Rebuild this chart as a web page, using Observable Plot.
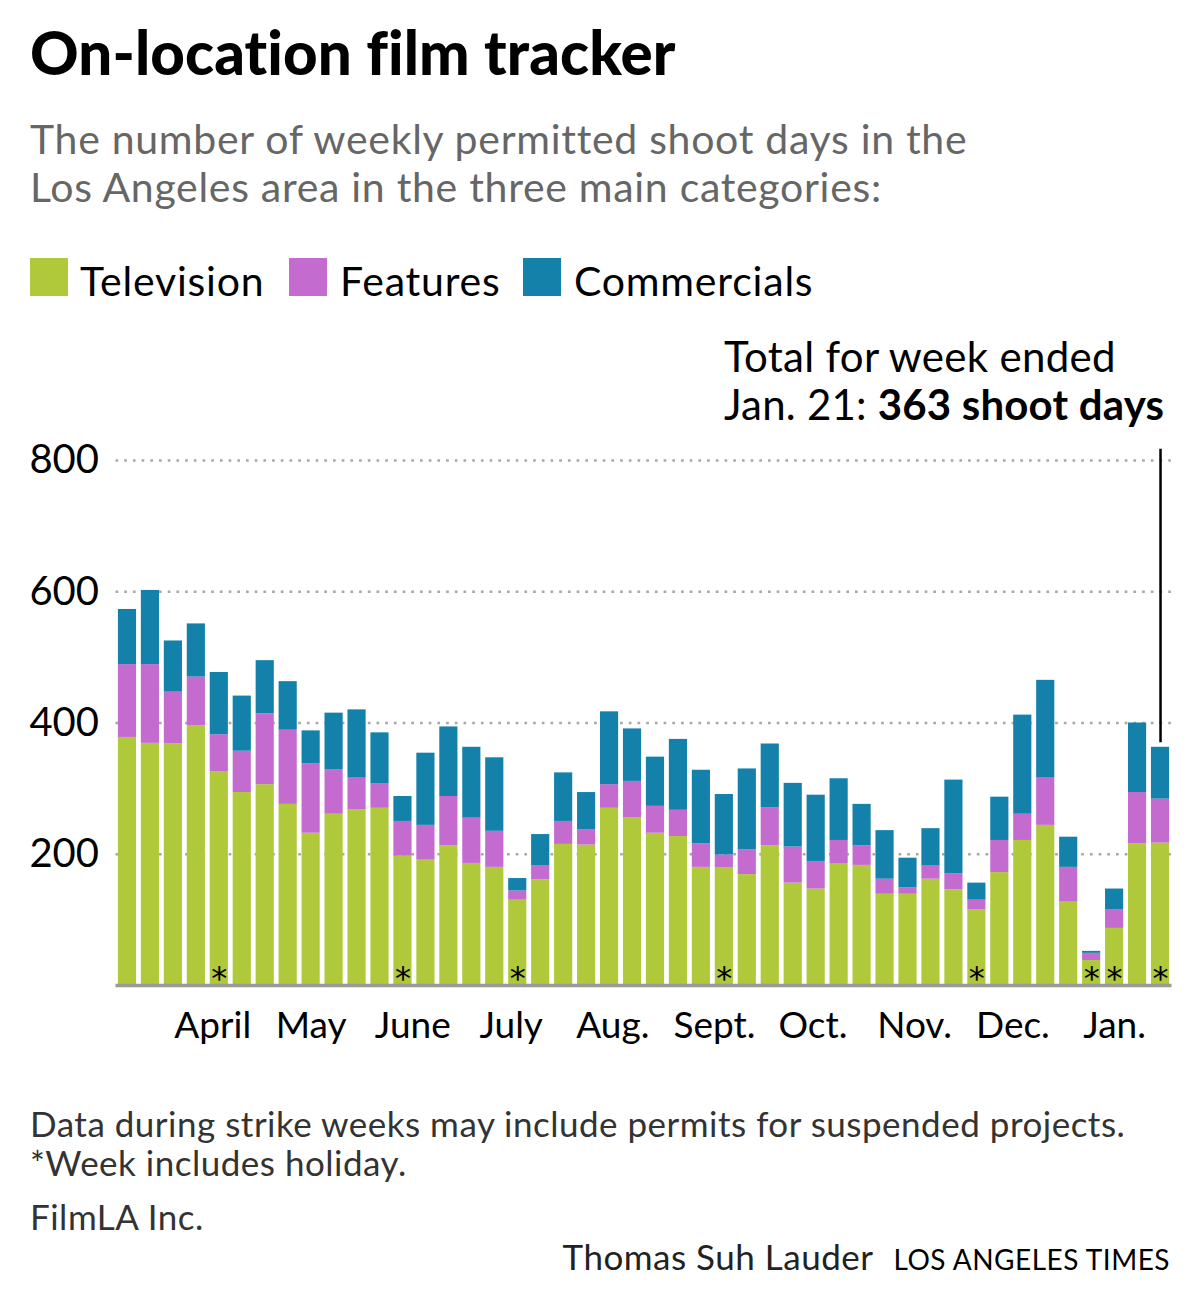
<!DOCTYPE html>
<html>
<head>
<meta charset="utf-8">
<script src="https://cdn.jsdelivr.net/npm/d3@7"></script>
<script src="https://cdn.jsdelivr.net/npm/@observablehq/plot@0.6"></script>
<style>
  body { margin: 0; background: #fff; }
  #root { position: relative; width: 1200px; height: 1314px; font-family: Lato, "Noto Sans", sans-serif; color: #000; overflow: hidden; }
  .t { position: absolute; white-space: nowrap; line-height: 1; }
  #chart { position: absolute; left: 0; top: 330px; }
  .sw { position: absolute; width: 38px; height: 38px; }
</style>
</head>
<body>
<div id="root">
  <div class="t" style="left:30px; top:22px; font-size:60px; font-weight:900; letter-spacing:0.1px;">On-location film tracker</div>
  <div class="t" style="left:30px; top:118px; font-size:41px; color:#666; letter-spacing:0.7px;">The number of weekly permitted shoot days in the</div>
  <div class="t" style="left:30px; top:166px; font-size:41px; color:#666; letter-spacing:0.7px;">Los Angeles area in the three main categories:</div>
  <div id="legend"></div>
  <div class="t" style="left:724px; top:335px; font-size:42px; letter-spacing:0.3px;">Total for week ended</div>
  <div class="t" style="left:724px; top:383px; font-size:42px; letter-spacing:0.2px;">Jan. 21: <b>363 shoot days</b></div>
  <div id="chart"></div>
  <div class="t" style="left:30px; top:1106px; font-size:35px; color:#333; letter-spacing:0.5px;">Data during strike weeks may include permits for suspended projects.</div>
  <div class="t" style="left:30px; top:1145px; font-size:35px; color:#333; letter-spacing:0.5px;">*Week includes holiday.</div>
  <div class="t" style="left:30px; top:1199px; font-size:35px; color:#333; letter-spacing:0.5px;">FilmLA Inc.</div>
  <div class="t" style="right:30px; top:1239px; font-size:35px; color:#222; letter-spacing:0.5px;">Thomas Suh Lauder<span style="display:inline-block; width:20px;"></span><span style="font-size:28px; color:#000;">LOS ANGELES TIMES</span></div>
</div>
<script>
const weekEnded = ["2023-03-12","2023-03-19","2023-03-26","2023-04-02","2023-04-09","2023-04-16","2023-04-23","2023-04-30",
  "2023-05-07","2023-05-14","2023-05-21","2023-05-28","2023-06-04","2023-06-11","2023-06-18","2023-06-25",
  "2023-07-02","2023-07-09","2023-07-16","2023-07-23","2023-07-30","2023-08-06","2023-08-13","2023-08-20","2023-08-27",
  "2023-09-03","2023-09-10","2023-09-17","2023-09-24","2023-10-01","2023-10-08","2023-10-15","2023-10-22","2023-10-29",
  "2023-11-05","2023-11-12","2023-11-19","2023-11-26","2023-12-03","2023-12-10","2023-12-17","2023-12-24","2023-12-31",
  "2024-01-07","2024-01-14","2024-01-21"];
const television = [378,369,368,396,326,294,306,276,232,261,268,270,197,191,213,186,180,130,161,215,214,270,256,232,227,
  180,179,169,213,156,147,185,183,139,139,162,146,115,172,221,244,127,38,87,216,217];
const features = [111,120,79,74,56,63,108,113,106,68,48,37,53,53,75,69,55,14,21,35,23,36,55,41,40,
  36,20,38,58,55,42,36,30,23,10,20,24,15,49,40,72,53,11,28,78,67];
const commercials = [84,113,78,81,95,84,81,74,50,86,104,78,38,110,106,108,112,19,48,74,57,111,80,75,108,
  112,92,123,97,97,101,94,63,74,45,57,143,26,66,151,149,46,3,32,106,79];
const holidayWeeks = ["2023-04-09","2023-06-04","2023-07-09","2023-09-10","2023-11-26","2023-12-31","2024-01-07","2024-01-21"];
const monthTicks = ["2023-04-01","2023-05-01","2023-06-01","2023-07-01","2023-08-01","2023-09-01","2023-10-01","2023-11-01","2023-12-01","2024-01-01"];
const monthLabels = ["April","May","June","July","Aug.","Sept.","Oct.","Nov.","Dec.","Jan."];
const yTicks = [200, 400, 600, 800];
const categories = ["Television", "Features", "Commercials"];
const colors = ["#b0c93a", "#c46bcf", "#1381aa"];

// legend
const legendEl = document.getElementById("legend");
const legendPos = [[30, 80], [289, 340], [523, 574]];
categories.forEach((c, i) => {
  const sw = document.createElement("div");
  sw.className = "sw";
  sw.style.left = legendPos[i][0] + "px"; sw.style.top = "258px"; sw.style.background = colors[i];
  legendEl.appendChild(sw);
  const tx = document.createElement("div");
  tx.className = "t";
  tx.style.left = legendPos[i][1] + "px"; tx.style.top = "260px"; tx.style.fontSize = "41px"; tx.style.letterSpacing = "0.8px";
  tx.textContent = c;
  legendEl.appendChild(tx);
});

const DAY = 864e5;
const parse = s => new Date(s + "T00:00:00Z");
// bar centred on the Monday that starts each week
const weekStart = s => new Date(+parse(s) - 6 * DAY);

const series = [television, features, commercials];
const rows = [];
weekEnded.forEach((w, i) => {
  let base = 0;
  categories.forEach((c, k) => {
    const v = series[k][i];
    const s = weekStart(w);
    rows.push({week: w, category: c, x1: new Date(+s - 3.5 * DAY), x2: new Date(+s + 3.5 * DAY), y1: base, y2: base + v});
    base += v;
  });
});
const totals = weekEnded.map((w, i) => ({week: w, total: television[i] + features[i] + commercials[i]}));
const last = totals[totals.length - 1];

const monthDates = monthTicks.map(parse);
const monthMap = new Map(monthDates.map((d, i) => [+d, monthLabels[i]]));

const xDomain = [new Date(+weekStart(weekEnded[0]) - 3.5 * DAY), new Date(+weekStart(weekEnded[weekEnded.length - 1]) + 3.5 * DAY)];

const chart = Plot.plot({
  width: 1200,
  height: 740,
  marginLeft: 115.5,
  marginRight: 28.5,
  marginTop: 130,
  marginBottom: 85,
  style: {fontFamily: "Lato, 'Noto Sans', sans-serif", background: "transparent", color: "#000"},
  x: {type: "utc", domain: xDomain},
  y: {domain: [0, 800]},
  color: {domain: categories, range: colors},
  marks: [
    Plot.ruleY(yTicks, {stroke: "#a8a8a8", strokeWidth: 2.6, strokeDasharray: "2.7,6"}),
    Plot.rectY(rows, {x1: "x1", x2: "x2", y1: "y1", y2: "y2", fill: "category", insetLeft: 2.4, insetRight: 2.4}),
    Plot.ruleY([0], {stroke: "#999", strokeWidth: 3.5}),
    Plot.text(holidayWeeks, {x: d => weekStart(d), y: 0, text: () => "*", fontSize: 32, fontFamily: "DejaVu Sans", lineAnchor: "bottom", dy: 3, fill: "#000"}),
    Plot.ruleX([last], {x: d => weekStart(d.week), y1: d => d.total + 7, y2: 817, stroke: "#000", strokeWidth: 2.5}),
    Plot.axisY(yTicks, {tickSize: 0, tickPadding: 17, fontSize: 40, anchor: "left", label: null}),
    Plot.axisX(monthDates, {tickSize: 0, tickPadding: 26, fontSize: 37, anchor: "bottom", label: null, tickFormat: d => monthMap.get(+d), style: {letterSpacing: "1px"}})
  ]
});
document.getElementById("chart").appendChild(chart);
</script>
</body>
</html>
